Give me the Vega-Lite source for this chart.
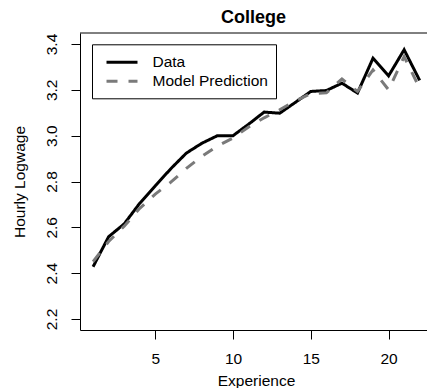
{
  "$schema": "https://vega.github.io/schema/vega-lite/v6.json",
  "autosize": {"type": "none"},
  "width": 347,
  "height": 297,
  "padding": {"left": 80, "top": 33, "right": 0, "bottom": 58},
  "background": "white",
  "config": {
    "view": {"stroke": null},
    "font": "Liberation Sans",
    "axis": {"labelFont": "Liberation Sans", "titleFont": "Liberation Sans", "labelColor": "black", "titleColor": "black", "tickColor": "black", "domainColor": "black", "grid": false},
    "legend": {"labelFont": "Liberation Sans"}
  },
  "title": {
    "text": "College",
    "font": "Liberation Sans",
    "fontSize": 18,
    "fontWeight": "bold",
    "color": "black",
    "anchor": "middle",
    "frame": "group",
    "baseline": "alphabetic",
    "offset": -8
  },
  "layer": [
    {
      "data": {
        "values": [
          {"exp": 1, "series": "Data", "value": 2.428},
          {"exp": 2, "series": "Data", "value": 2.559},
          {"exp": 3, "series": "Data", "value": 2.615},
          {"exp": 4, "series": "Data", "value": 2.705},
          {"exp": 5, "series": "Data", "value": 2.781},
          {"exp": 6, "series": "Data", "value": 2.856},
          {"exp": 7, "series": "Data", "value": 2.924},
          {"exp": 8, "series": "Data", "value": 2.967},
          {"exp": 9, "series": "Data", "value": 3.0},
          {"exp": 10, "series": "Data", "value": 3.0},
          {"exp": 11, "series": "Data", "value": 3.05},
          {"exp": 12, "series": "Data", "value": 3.103},
          {"exp": 13, "series": "Data", "value": 3.098},
          {"exp": 14, "series": "Data", "value": 3.145},
          {"exp": 15, "series": "Data", "value": 3.193},
          {"exp": 16, "series": "Data", "value": 3.197},
          {"exp": 17, "series": "Data", "value": 3.229},
          {"exp": 18, "series": "Data", "value": 3.186},
          {"exp": 19, "series": "Data", "value": 3.338},
          {"exp": 20, "series": "Data", "value": 3.261},
          {"exp": 21, "series": "Data", "value": 3.375},
          {"exp": 22, "series": "Data", "value": 3.241},
          {"exp": 1, "series": "Model Prediction", "value": 2.45},
          {"exp": 2, "series": "Model Prediction", "value": 2.538},
          {"exp": 3, "series": "Model Prediction", "value": 2.605},
          {"exp": 4, "series": "Model Prediction", "value": 2.683},
          {"exp": 5, "series": "Model Prediction", "value": 2.745},
          {"exp": 6, "series": "Model Prediction", "value": 2.797},
          {"exp": 7, "series": "Model Prediction", "value": 2.857},
          {"exp": 8, "series": "Model Prediction", "value": 2.91},
          {"exp": 9, "series": "Model Prediction", "value": 2.955},
          {"exp": 10, "series": "Model Prediction", "value": 2.99},
          {"exp": 11, "series": "Model Prediction", "value": 3.038},
          {"exp": 12, "series": "Model Prediction", "value": 3.078},
          {"exp": 13, "series": "Model Prediction", "value": 3.113},
          {"exp": 14, "series": "Model Prediction", "value": 3.152},
          {"exp": 15, "series": "Model Prediction", "value": 3.183},
          {"exp": 16, "series": "Model Prediction", "value": 3.187},
          {"exp": 17, "series": "Model Prediction", "value": 3.247},
          {"exp": 18, "series": "Model Prediction", "value": 3.193},
          {"exp": 19, "series": "Model Prediction", "value": 3.287},
          {"exp": 20, "series": "Model Prediction", "value": 3.2},
          {"exp": 21, "series": "Model Prediction", "value": 3.345},
          {"exp": 22, "series": "Model Prediction", "value": 3.207}
        ]
      },
      "mark": {"type": "line", "strokeWidth": 3, "strokeCap": "butt", "clip": true},
      "encoding": {
        "x": {
          "field": "exp",
          "type": "quantitative",
          "scale": {"domain": [0.16, 22.47], "nice": false, "zero": false},
          "axis": {
            "orient": "bottom",
            "values": [5, 10, 15, 20],
            "tickSize": 9,
            "labelPadding": 12,
            "labelFontSize": 15.5,
            "title": "Experience",
            "titleFontSize": 15.5,
            "titleFontWeight": "normal",
            "titleX": 176,
            "titleY": 55,
            "titleBaseline": "alphabetic",
            "titleAlign": "center"
          }
        },
        "y": {
          "field": "value",
          "type": "quantitative",
          "scale": {"domain": [2.152, 3.448], "nice": false, "zero": false},
          "axis": {
            "orient": "left",
            "values": [2.2, 2.4, 2.6, 2.8, 3.0, 3.2, 3.4],
            "format": ".1f",
            "tickSize": 9,
            "labelAngle": 270,
            "labelAlign": "center",
            "labelBaseline": "alphabetic",
            "labelPadding": 15,
            "labelFontSize": 15.5,
            "title": "Hourly Logwage",
            "titleFontSize": 15.5,
            "titleFontWeight": "normal",
            "titleAngle": 270,
            "titleX": -56,
            "titleY": 148.5,
            "titleAlign": "center",
            "titleBaseline": "alphabetic"
          }
        },
        "color": {
          "field": "series",
          "type": "nominal",
          "scale": {"domain": ["Data", "Model Prediction"], "range": ["#000000", "#7a7a7a"]},
          "legend": {
            "title": null,
            "orient": "none",
            "legendX": 12,
            "legendY": 11.3,
            "strokeColor": "black",
            "fillColor": "white",
            "padding": 8,
            "symbolType": "M-1.9,0H1.9",
            "symbolSize": 266,
            "symbolStrokeWidth": 3,
            "symbolOffset": 12,
            "labelOffset": 20.5,
            "labelFontSize": 15.5,
            "labelColor": "black",
            "rowPadding": 0
          }
        },
        "strokeDash": {
          "field": "series",
          "type": "nominal",
          "scale": {"domain": ["Data", "Model Prediction"], "range": [[1, 0], [11, 11]]},
          "legend": {
            "title": null,
            "orient": "none",
            "legendX": 12,
            "legendY": 11.3,
            "strokeColor": "black",
            "fillColor": "white",
            "padding": 8,
            "symbolType": "M-1.9,0H1.9",
            "symbolSize": 266,
            "symbolStrokeWidth": 3,
            "symbolOffset": 12,
            "labelOffset": 20.5,
            "labelFontSize": 15.5,
            "labelColor": "black",
            "rowPadding": 0
          }
        }
      }
    },
    {
      "data": {"values": [{}]},
      "mark": {"type": "rule", "color": "black", "strokeWidth": 1},
      "encoding": {"y": {"datum": 3.448}}
    }
  ]
}
